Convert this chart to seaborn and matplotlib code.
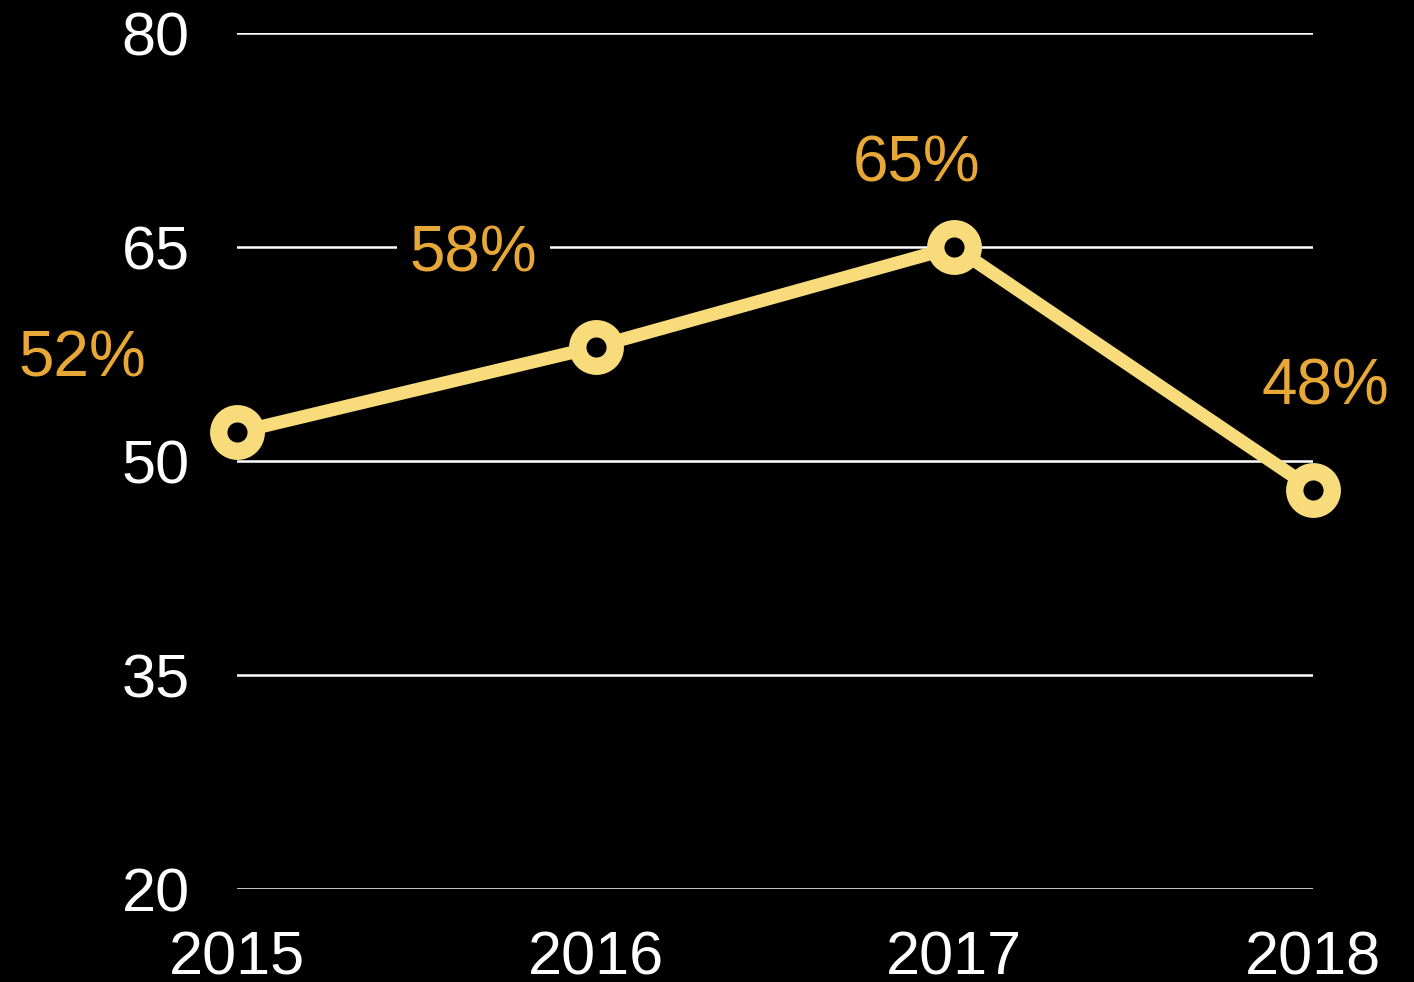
import pandas as pd
import matplotlib.pyplot as plt
import seaborn as sns

years = [2015, 2016, 2017, 2018]
values = [52, 58, 65, 48]
labels = ["52%", "58%", "65%", "48%"]
y_ticks = [20, 35, 50, 65, 80]

# label offsets (points) from each marker
label_off = [(-111, 40), (-88, 54), (-27, 47), (9, 61)]

df = pd.DataFrame({"year": years, "value": values})

sns.set_style("dark")
plt.rcParams["font.family"] = ["Liberation Sans", "DejaVu Sans"]

line_col = "#F8DB7B"
lab_col = "#E8A838"

fig = plt.figure(figsize=(14.14, 9.82), dpi=100, facecolor="black")
ax = fig.add_axes([237 / 1414, 93 / 982, 1076 / 1414, 856 / 982])
ax.set_facecolor("black")

for t in y_ticks:
    ax.axhline(t, color="white", lw=1.8, zorder=1)

sns.lineplot(data=df, x="year", y="value", ax=ax, color=line_col, lw=9.5,
             marker="o", markersize=27, markeredgewidth=12.5,
             markerfacecolor="black", markeredgecolor=line_col,
             clip_on=False, zorder=3)

for x, y, lab, (dx, dy) in zip(years, values, labels, label_off):
    box = None
    if lab == "58%":
        box = dict(facecolor="black", edgecolor="none", pad=9)
    ax.annotate(lab, (x, y), xytext=(dx, dy), textcoords="offset points",
                ha="center", va="baseline", color=lab_col, fontsize=46,
                bbox=box, zorder=4)

ax.set_xlim(2015, 2018)
ax.set_ylim(20, 80)
ax.set_xticks(years)
ax.set_yticks(y_ticks)
ax.set_xticklabels([str(y) for y in years])
ax.tick_params(axis="both", colors="white", labelsize=44, length=0)
ax.tick_params(axis="y", pad=34)
ax.tick_params(axis="x", pad=30)
ax.grid(False)
ax.set_xlabel("")
ax.set_ylabel("")
for s in ax.spines.values():
    s.set_visible(False)

fig.savefig("out.png", dpi=100, facecolor="black")
